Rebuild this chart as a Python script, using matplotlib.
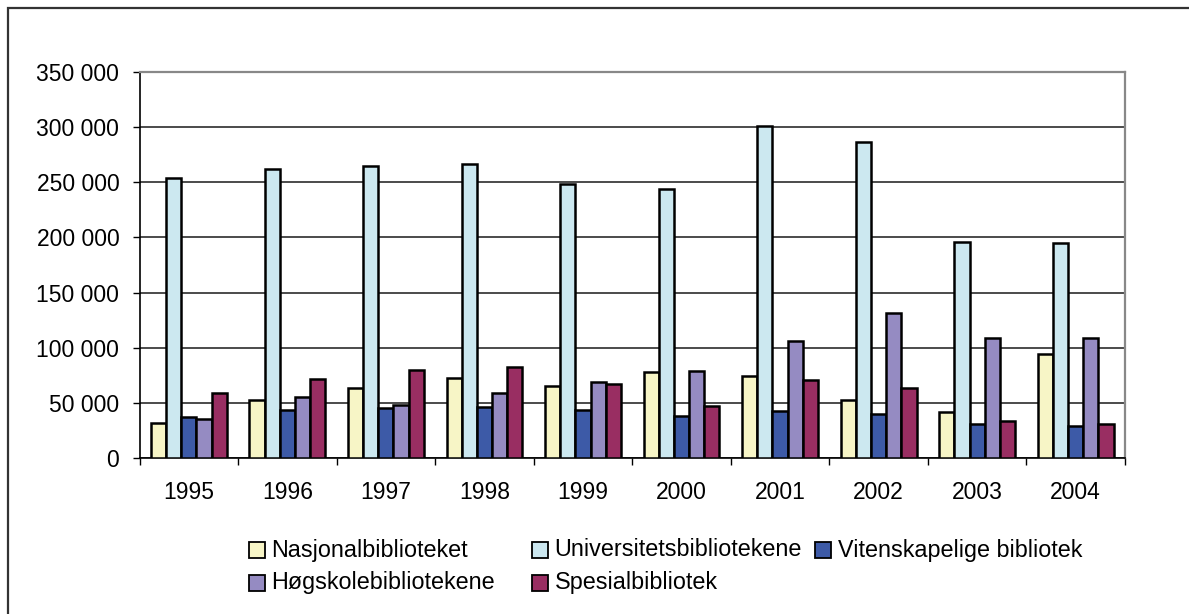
import numpy as np
import matplotlib
matplotlib.use("Agg")
import matplotlib.pyplot as plt
from matplotlib.patches import Rectangle

years = ["1995", "1996", "1997", "1998", "1999", "2000", "2001", "2002", "2003", "2004"]

nasjonal = [31200, 52000, 62900, 72000, 64800, 77500, 73800, 52700, 41200, 94400]
universitet = [254200, 262100, 265100, 266300, 248800, 243600, 301500, 286300, 195800, 194900]
vitenskap = [36900, 43000, 44800, 45700, 43600, 38100, 42100, 40000, 30600, 29100]
hogskole = [35400, 54800, 48100, 58400, 68700, 78700, 106200, 131700, 108400, 109000]
spesial = [59000, 71700, 79300, 82000, 67200, 46600, 70200, 62900, 33300, 30300]

series = [
    ("Nasjonalbiblioteket", nasjonal, "#F7F5C6"),
    ("Universitetsbibliotekene", universitet, "#CCE8F0"),
    ("Vitenskapelige bibliotek", vitenskap, "#3D5AA7"),
    ("Høgskolebibliotekene", hogskole, "#958BC2"),
    ("Spesialbibliotek", spesial, "#992E62"),
]

plt.rcParams['font.family'] = ['Liberation Sans', 'DejaVu Sans']

W, H = 1189, 614
fig = plt.figure(figsize=(W / 100, H / 100), dpi=100)

# outer chart border (only left and top visible in the reference)
fig.patches.append(Rectangle((8 / W, -0.1), 1.2, 1 - 7.5 / H + 0.1, transform=fig.transFigure,
                             fill=False, edgecolor="#333333", linewidth=1.6))

ax = fig.add_axes([139.5 / W, (H - 457.7) / H, (1125 - 139.5) / W, (457.7 - 72.3) / H])

x = np.arange(len(years))
w = 1 / 6.5
for i, (name, vals, col) in enumerate(series):
    ax.bar(x + (i - 2) * w, vals, width=w, color=col, edgecolor="black", linewidth=1.8, zorder=3)

ax.set_xlim(-0.5, 9.5)
ax.set_ylim(0, 350000)
yt = np.arange(0, 350001, 50000)
ax.set_yticks(yt)
ax.set_yticklabels([f"{v:,}".replace(",", " ") for v in yt], fontsize=16.5)
ax.set_xticks(x)
ax.set_xticklabels(years, fontsize=16.5)
ax.set_xticks(np.arange(-0.5, 10, 1), minor=True)
ax.tick_params(axis="x", which="major", length=0, pad=16.5)
ax.tick_params(axis="x", which="minor", length=5, width=1, color="black")
ax.tick_params(axis="y", length=5, width=1, pad=9.5, color="black")

ax.yaxis.grid(True, color="#1a1a1a", linewidth=1.1, zorder=0)
ax.set_axisbelow(True)
for s in ["top", "right"]:
    ax.spines[s].set_color("#888888")
    ax.spines[s].set_linewidth(1.6)
for s in ["left", "bottom"]:
    ax.spines[s].set_color("black")
    ax.spines[s].set_linewidth(1.2)

# legend, laid out like the reference (3 + 2 rows)
leg_pos = [(249, 550), (532, 550), (815, 550), (249, 583), (532, 583)]
for (name, vals, col), (lx, ly) in zip(series, leg_pos):
    fig.patches.append(Rectangle((lx / W, (H - ly - 8) / H), 16 / W, 16 / H, transform=fig.transFigure,
                                 facecolor=col, edgecolor="black", linewidth=1.3))
    fig.text((lx + 22.5) / W, (H - ly) / H, name, fontsize=16.8, va="center", ha="left")

fig.savefig("out.png", dpi=100)
